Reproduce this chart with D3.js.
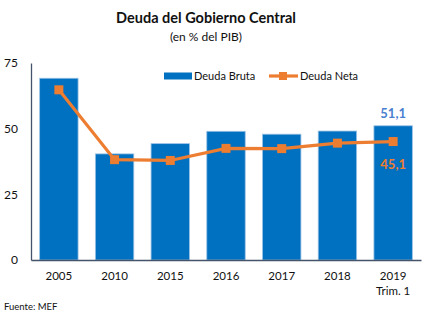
<!DOCTYPE html>
<html>
<head>
<meta charset="utf-8">
<script src="https://cdn.jsdelivr.net/npm/d3@7"></script>
<style>
  html, body { margin: 0; padding: 0; background: #fff; }
  svg { display: block; font-family: Lato, "Open Sans", sans-serif; }
</style>
</head>
<body>
<svg id="chart" width="437" height="331"></svg>
<script>
// Gross and net central government debt, % of GDP
const years = ["2005", "2010", "2015", "2016", "2017", "2018", "2019"];
const subLabels = ["", "", "", "", "", "", "Trim. 1"];
const deudaBruta = [69.2, 40.4, 44.3, 49.0, 47.9, 49.1, 51.1];
const deudaNeta = [64.8, 38.2, 37.9, 42.5, 42.4, 44.5, 45.1];
const yTicks = [0, 25, 50, 75];

const svg = d3.select("#chart");
const margin = { left: 31, right: 421, top: 63, bottom: 260 };

const x = d3.scaleBand().domain(years).range([margin.left, margin.right]).paddingInner(0.31).paddingOuter(0.155);
const y = d3.scaleLinear().domain([0, 75]).range([margin.bottom, margin.top]);

const blue = "#0070C0";
const orange = "#ED7D31";
const axisColor = "#44546A";

// Title
svg.append("text").attr("x", 206).attr("y", 23).attr("text-anchor", "middle")
  .attr("font-size", 14.5).attr("font-weight", "bold").attr("fill", "#111")
  .text("Deuda del Gobierno Central");
svg.append("text").attr("x", 206).attr("y", 41).attr("text-anchor", "middle")
  .attr("font-size", 12).attr("fill", "#111")
  .text("(en % del PIB)");

// Bars
svg.append("g").selectAll("rect").data(years).join("rect")
  .attr("x", d => x(d))
  .attr("width", x.bandwidth())
  .attr("y", (d, i) => y(deudaBruta[i]))
  .attr("height", (d, i) => y(0) - y(deudaBruta[i]))
  .attr("fill", blue)
  .attr("stroke", "#9DC3E6").attr("stroke-width", 0.8);

// Axes
const yAxis = d3.axisLeft(y).tickValues(yTicks).tickSize(0).tickPadding(13);
const gy = svg.append("g").attr("transform", `translate(${margin.left},0)`).call(yAxis);
gy.select(".domain").attr("stroke", axisColor).attr("stroke-width", 1.3);
gy.selectAll("text").attr("font-size", 12).attr("fill", "#111").attr("font-family", "Lato, sans-serif");

const xAxis = d3.axisBottom(x).tickSize(0).tickPadding(12);
const gx = svg.append("g").attr("transform", `translate(0,${margin.bottom})`).call(xAxis);
gx.select(".domain").attr("stroke", axisColor).attr("stroke-width", 1.3);
gx.selectAll("text").attr("font-size", 11.5).attr("fill", "#111").attr("font-family", "Lato, sans-serif");
gx.selectAll(".tick").filter(d => subLabels[years.indexOf(d)]).append("text")
  .attr("y", 27).attr("dy", "0.71em").attr("text-anchor", "middle")
  .attr("font-size", 11.5).attr("fill", "#111").attr("font-family", "Lato, sans-serif")
  .text(d => subLabels[years.indexOf(d)]);

// Net debt line
const cx = d => x(d) + x.bandwidth() / 2;
const line = d3.line().x((d, i) => cx(years[i])).y(d => y(d));
svg.append("path").datum(deudaNeta).attr("d", line)
  .attr("fill", "none").attr("stroke", orange).attr("stroke-width", 3.2);
svg.append("g").selectAll("rect").data(deudaNeta).join("rect")
  .attr("x", (d, i) => cx(years[i]) - 4.5)
  .attr("y", d => y(d) - 4.5)
  .attr("width", 9).attr("height", 9)
  .attr("fill", orange);

// Value labels for the last period
const last = years.length - 1;
svg.append("text").attr("x", cx(years[last])).attr("y", y(deudaBruta[last]) - 8)
  .attr("text-anchor", "middle").attr("font-size", 13).attr("font-weight", "bold")
  .attr("fill", "#4A7FD0").text(d3.format(".1f")(deudaBruta[last]).replace(".", ","));
svg.append("text").attr("x", cx(years[last])).attr("y", y(deudaNeta[last]) + 27)
  .attr("text-anchor", "middle").attr("font-size", 13).attr("font-weight", "bold")
  .attr("fill", orange).text(d3.format(".1f")(deudaNeta[last]).replace(".", ","));

// Legend
const lg = svg.append("g");
lg.append("rect").attr("x", 164).attr("y", 72.5).attr("width", 28).attr("height", 7).attr("fill", blue);
lg.append("text").attr("x", 194).attr("y", 80).attr("font-size", 11).attr("fill", "#111").text("Deuda Bruta");
lg.append("line").attr("x1", 269).attr("x2", 298).attr("y1", 76).attr("y2", 76)
  .attr("stroke", orange).attr("stroke-width", 3.2);
lg.append("rect").attr("x", 279).attr("y", 72).attr("width", 8).attr("height", 8).attr("fill", orange);
lg.append("text").attr("x", 300).attr("y", 80).attr("font-size", 11).attr("fill", "#111").text("Deuda Neta");

// Source note
svg.append("text").attr("x", 4).attr("y", 310).attr("font-size", 9.5).attr("fill", "#111").text("Fuente: MEF");
</script>
</body>
</html>
